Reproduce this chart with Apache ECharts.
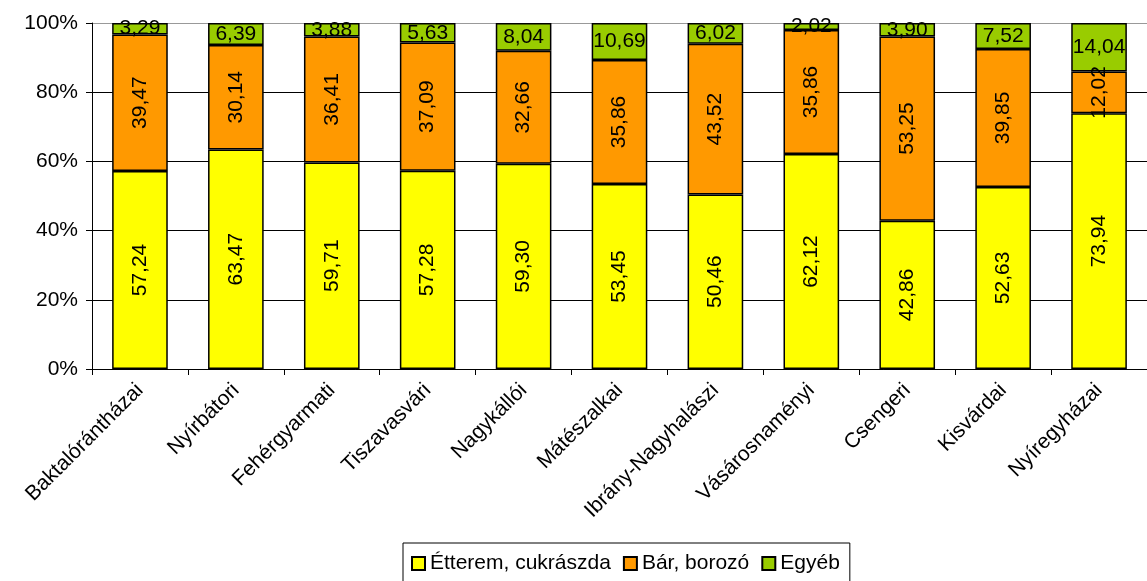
<!DOCTYPE html>
<html><head><meta charset="utf-8">
<script src="https://cdn.jsdelivr.net/npm/echarts@6/dist/echarts.min.js"></script>
<style>html,body{margin:0;padding:0;background:#fff}#c{width:1147px;height:581px}</style>
</head><body><div id="c"></div>
<script>
const categories = ['Baktalórántházai','Nyírbátori','Fehérgyarmati','Tiszavasvári','Nagykállói','Mátészalkai','Ibrány-Nagyhalászi','Vásárosnaményi','Csengeri','Kisvárdai','Nyíregyházai'];
const etterem = [57.24, 63.47, 59.71, 57.28, 59.30, 53.45, 50.46, 62.12, 42.86, 52.63, 73.94];
const bar = [39.47, 30.14, 36.41, 37.09, 32.66, 35.86, 43.52, 35.86, 53.25, 39.85, 12.02];
const egyeb = [3.29, 6.39, 3.88, 5.63, 8.04, 10.69, 6.02, 2.02, 3.90, 7.52, 14.04];
const seriesNames = ['Étterem, cukrászda','Bár, borozó','Egyéb'];
const yTicks = [0, 20, 40, 60, 80, 100];

const font = 'Liberation Sans, Arial, sans-serif';
function mk(name, data, color, rotate) {
  return {
    name, type: 'bar', stack: 's', data, barWidth: '58%',
    itemStyle: { color, borderColor: '#000', borderWidth: 1.5 },
    label: {
      show: true, position: 'inside', rotate: rotate,
      formatter: p => p.value.toFixed(2).replace('.', ','),
      color: '#000', fontFamily: font, fontSize: 21
    }
  };
}
const chart = echarts.init(document.getElementById('c'), null, {renderer: 'canvas'});
chart.setOption({
  animation: false,
  grid: { left: 92, top: 23, right: -15, bottom: 212 },
  legend: {
    top: 543, left: 403, itemGap: 12,
    data: seriesNames, icon: 'rect', itemWidth: 13, itemHeight: 13,
    borderColor: '#000', borderWidth: 1, padding: [10, 10, 14, 8],
    textStyle: { fontFamily: font, fontSize: 21, color: '#000' }
  },
  xAxis: {
    type: 'category', data: categories,
    axisLine: { lineStyle: { color: '#000', width: 1 } },
    axisTick: { show: true, length: 6, lineStyle: { color: '#000' } },
    axisLabel: { rotate: 45, fontFamily: font, fontSize: 21, color: '#000', margin: 18, interval: 0 }
  },
  yAxis: {
    type: 'value', min: yTicks[0], max: yTicks[yTicks.length - 1], interval: 20,
    axisLine: { show: true, lineStyle: { color: '#000' } },
    axisTick: { show: true, length: 6, lineStyle: { color: '#000' } },
    axisLabel: { formatter: '{value}%', fontFamily: font, fontSize: 21, color: '#000', margin: 14 },
    splitLine: { show: true, lineStyle: { color: ['#000','#000','#000','#000','#000','#999'], width: 1 } }
  },
  series: [
    mk(seriesNames[0], etterem, '#ffff00', 90),
    mk(seriesNames[1], bar, '#ff9900', 90),
    mk(seriesNames[2], egyeb, '#99cc00', 0)
  ]
});
</script></body></html>
